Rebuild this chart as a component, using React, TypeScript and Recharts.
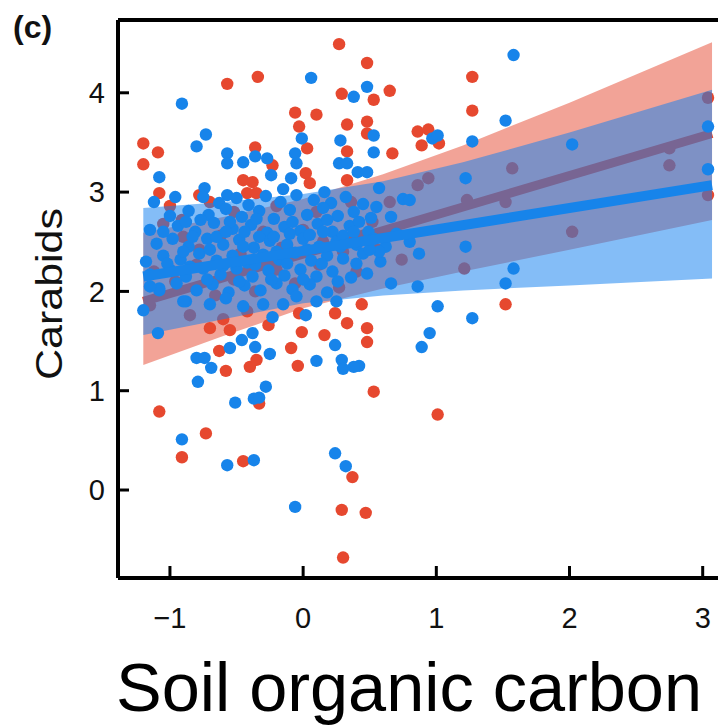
import React from 'react'
import { ComposedChart, Scatter, Line, Area, XAxis, YAxis, ReferenceLine } from 'recharts'

const X_MIN = -1.39
const X_MAX = 3.205
const Y_MIN = -0.886
const Y_MAX = 4.733

const X_TICKS = [-1, 0, 1, 2, 3]
const Y_TICKS = [0, 1, 2, 3, 4]

// raw points: [x, y]
const RED_POINTS: [number, number][] = [
    [-1.2, 3.49], [-1.2, 3.28], [-1.09, 3.4], [-1.08, 2.99], [-0.57, 4.09], [-0.34, 4.16], [0.27, 4.49],
    [0.29, 3.99], [-0.06, 3.8], [0.1, 3.78], [0.33, 3.68], [-0.03, 3.66], [-0.36, 3.45], [0.03, 3.44],
    [0.33, 3.41], [-0.23, 3.27], [-0.45, 3.12], [-0.38, 3.1], [-0.42, 2.99], [-0.35, 2.99], [-0.78, 2.97],
    [0.02, 3.19], [0.05, 3.09], [0.33, 3.12], [-0.91, 2.72],
    [0.48, 4.3], [0.65, 4.02], [0.53, 3.93], [0.48, 3.71], [0.48, 3.59], [0.67, 3.39], [1.27, 4.16],
    [1.27, 3.82], [0.86, 3.61], [0.94, 3.63], [0.89, 3.47], [1.02, 3.49], [3.04, 3.95], [3.04, 2.97],
    [0.86, 3.07], [0.94, 3.14], [1.57, 3.24], [1.23, 2.92], [1.52, 2.9], [2.75, 3.44], [2.75, 3.27],
    [2.02, 2.6], [1.21, 2.23], [0.56, 2.42], [0.74, 2.32], [0.65, 2.9], [1.52, 1.87],
    [0.44, 1.87], [0.48, 1.63], [0.48, 1.49], [0.53, 0.99], [1.01, 0.76], [0.47, -0.23],
    [0.24, 1.78], [0.33, 1.68], [0.16, 1.56], [-0.03, 1.78], [-0.01, 1.59], [-0.09, 1.43], [-0.04, 1.25],
    [-0.63, 1.4], [-0.58, 1.2], [-0.4, 1.24], [-0.35, 1.31], [-0.7, 1.63], [-0.55, 1.61], [-0.33, 0.87],
    [-1.08, 0.79], [-0.73, 0.57], [-0.91, 0.33], [-0.45, 0.29], [0.37, 0.13], [0.29, -0.2], [0.3, -0.68],
    [-1.05, 2.68], [-0.9, 2.55], [-0.78, 2.42], [-0.62, 2.56], [-0.47, 2.38], [-0.3, 2.6], [-0.16, 2.44],
    [0.0, 2.62], [0.15, 2.5], [0.3, 2.4], [0.45, 2.56], [-1.12, 2.2], [-0.96, 2.1], [-0.8, 2.27],
    [-0.66, 1.96], [-0.52, 2.12], [-0.36, 2.0], [-0.2, 2.22], [-0.06, 2.08], [0.12, 2.27], [0.27, 2.04],
    [0.4, 2.2], [-1.15, 1.86], [-0.85, 1.76], [-0.6, 1.72], [-0.42, 1.8], [-0.26, 1.66], [-1.0, 2.86],
    [-0.7, 2.9], [-0.52, 2.8], [-0.2, 2.86], [0.1, 2.8], [0.36, 2.9], [0.52, 2.7],
]

const BLUE_POINTS: [number, number][] = [
    [-0.91, 3.89], [0.06, 4.15], [0.38, 3.96], [-0.8, 3.46], [-0.73, 3.58], [-0.57, 3.39], [-0.57, 3.29],
    [-0.45, 3.3], [-0.36, 3.36], [-0.27, 3.34], [-0.24, 3.17], [-0.06, 3.39], [-0.05, 3.29], [-0.01, 3.54],
    [0.28, 3.52], [0.27, 3.29], [0.33, 3.29], [-1.08, 3.15], [-0.74, 3.04], [-0.15, 3.03], [-0.09, 3.14],
    [0.16, 3.0], [0.41, 3.2], [-0.57, 2.97],
    [1.58, 4.38], [0.48, 4.06], [1.52, 3.72], [1.27, 3.51], [0.53, 3.57], [0.53, 3.4], [0.97, 3.54],
    [1.01, 3.57], [2.02, 3.48], [3.04, 3.66], [3.04, 3.23], [1.22, 3.14], [0.48, 3.2], [0.57, 3.04],
    [0.75, 2.93], [0.8, 2.92], [0.66, 2.75], [1.22, 2.45], [1.58, 2.23], [0.66, 2.08], [0.86, 2.05],
    [1.52, 2.08], [0.48, 2.18], [0.7, 2.58], [0.8, 2.5], [0.87, 2.38], [0.55, 2.85], [0.62, 2.45], [0.58, 2.3],
    [1.01, 1.85], [1.27, 1.73], [0.95, 1.58], [0.89, 1.44], [0.42, 1.25],
    [-1.2, 1.81], [-1.09, 1.58], [-0.88, 1.9], [-1.08, 2.01], [-0.8, 1.33], [-0.74, 1.33], [-0.69, 1.23],
    [-0.79, 1.09], [-0.55, 1.43], [-0.46, 1.51], [-0.38, 1.58], [-0.36, 1.44], [-0.25, 1.37], [-0.23, 1.74],
    [-0.3, 1.87], [-0.51, 0.88], [-0.37, 0.92], [-0.33, 0.93], [-0.28, 1.04], [-0.91, 0.51], [-0.57, 0.25],
    [-0.37, 0.3], [-0.06, -0.17], [0.24, 0.37], [0.32, 0.24], [0.1, 1.3], [0.24, 1.46], [0.29, 1.31],
    [0.3, 1.22], [0.38, 1.24], [0.02, 1.76],
    // dense cluster
    [-0.75, 2.95], [-0.63, 2.89], [-0.5, 2.94], [-0.41, 2.87], [-0.28, 2.96], [-0.17, 2.9], [-0.05, 2.97],
    [0.08, 2.92], [0.21, 2.89], [0.32, 2.95], [0.45, 2.88],
    [-1.0, 2.76], [-0.86, 2.81], [-0.71, 2.77], [-0.58, 2.83], [-0.46, 2.75], [-0.33, 2.81], [-0.22, 2.73],
    [-0.1, 2.82], [0.03, 2.77], [0.15, 2.84], [0.26, 2.76], [0.38, 2.8], [0.51, 2.74],
    [-1.15, 2.62], [-0.94, 2.66], [-0.81, 2.6], [-0.67, 2.69], [-0.53, 2.63], [-0.39, 2.67], [-0.27, 2.59],
    [-0.14, 2.65], [-0.02, 2.61], [0.11, 2.68], [0.22, 2.6], [0.35, 2.66], [0.49, 2.6],
    [-1.1, 2.48], [-0.98, 2.53], [-0.86, 2.45], [-0.72, 2.53], [-0.6, 2.47], [-0.48, 2.52], [-0.37, 2.44],
    [-0.25, 2.51], [-0.12, 2.47], [0.0, 2.53], [0.12, 2.45], [0.25, 2.5], [0.4, 2.47], [0.53, 2.53],
    [-1.18, 2.3], [-1.05, 2.36], [-0.92, 2.32], [-0.78, 2.38], [-0.65, 2.31], [-0.53, 2.36], [-0.42, 2.29],
    [-0.3, 2.37], [-0.18, 2.32], [-0.06, 2.39], [0.06, 2.31], [0.18, 2.36], [0.3, 2.33], [0.45, 2.38],
    [-1.15, 2.17], [-1.0, 2.22], [-0.88, 2.15], [-0.75, 2.23], [-0.62, 2.17], [-0.5, 2.23], [-0.38, 2.15],
    [-0.26, 2.21], [-0.14, 2.16], [-0.02, 2.22], [0.1, 2.15], [0.22, 2.2], [0.36, 2.14],
    [-1.08, 2.03], [-0.95, 2.08], [-0.8, 2.01], [-0.68, 2.07], [-0.56, 1.99], [-0.44, 2.06], [-0.32, 2.01],
    [-0.2, 2.08], [-0.08, 2.02], [0.05, 2.07], [0.18, 1.99],
    [-0.9, 1.9], [-0.7, 1.87], [-0.58, 1.93], [-0.45, 1.85], [-0.15, 1.87], [0.1, 1.9],
    [-1.12, 2.9], [-0.96, 2.95], [-0.88, 2.7], [-0.77, 2.72], [-0.65, 2.55], [-0.55, 2.7], [-0.44, 2.6],
    [-0.35, 2.73], [-0.22, 2.55], [-0.08, 2.7], [0.05, 2.57], [0.18, 2.72], [0.3, 2.56], [0.42, 2.7], [0.57, 2.4],
    [-1.05, 2.6], [-0.9, 2.4], [-0.83, 2.55], [-0.7, 2.42], [-0.58, 2.6], [-0.45, 2.45], [-0.33, 2.55],
    [-0.2, 2.4], [-0.1, 2.58], [0.03, 2.42], [0.15, 2.6], [0.28, 2.45], [0.38, 2.6], [0.5, 2.42],
    [-1.15, 2.05], [-1.02, 2.28], [-0.85, 2.25], [-0.72, 2.12], [-0.6, 2.26], [-0.48, 2.1], [-0.36, 2.27],
    [-0.24, 2.12], [-0.12, 2.28], [0.0, 2.12], [0.14, 2.28], [0.26, 2.1], [0.4, 2.28],
    [-0.05, 1.95], [0.25, 1.9],
]

// confidence bands read at these x positions
const BAND_X = [-1.2, -0.6, 0, 0.6, 1.2, 2.0, 3.07]
const RED_LO = [1.26, 1.55, 1.83, 2.03, 2.2, 2.42, 2.72]
const RED_HI = [2.59, 2.75, 2.93, 3.18, 3.47, 3.9, 4.51]
const BLUE_LO = [1.56, 1.72, 1.88, 1.96, 2.01, 2.06, 2.13]
const BLUE_HI = [2.84, 2.9, 2.98, 3.11, 3.3, 3.6, 4.03]

// fitted lines (end points)
const FIT_X = [-1.2, 3.07]
const RED_FIT = [1.9, 3.59]
const BLUE_FIT = [2.15, 3.07]

const RED = '#e6482f'
const BLUE = '#1784ea'
const BAND_BLUE = '#1481f0'
const FONT = '"Liberation Sans", Arial, sans-serif'

const redPts = RED_POINTS.map(([x, y]) => ({ x, y }))
const bluePts = BLUE_POINTS.map(([x, y]) => ({ x, y }))
const redBand = BAND_X.map((x, i) => ({ x, range: [RED_LO[i], RED_HI[i]] }))
const blueBand = BAND_X.map((x, i) => ({ x, range: [BLUE_LO[i], BLUE_HI[i]] }))
const redFit = FIT_X.map((x, i) => ({ x, y: RED_FIT[i] }))
const blueFit = FIT_X.map((x, i) => ({ x, y: BLUE_FIT[i] }))

const dot = (color: string) => (props: any) => <circle cx={props.cx} cy={props.cy} r={6.2} fill={color} />

const fmt = (v: number) => String(v).replace('-', '\u2212')

export default function App() {
    return (
        <div style={{ position: 'absolute', left: 0, top: 0, width: 718, height: 726, overflow: 'hidden', background: '#fff' }}>
            <ComposedChart width={740} height={726} margin={{ top: 20, right: 10, left: 0, bottom: 0 }}>
                <XAxis
                    type="number"
                    dataKey="x"
                    domain={[X_MIN, X_MAX]}
                    allowDataOverflow
                    ticks={X_TICKS}
                    tickFormatter={fmt}
                    height={148}
                    tickSize={-12}
                    tickMargin={41}
                    axisLine={{ stroke: '#000', strokeWidth: 4 }}
                    tickLine={{ stroke: '#000', strokeWidth: 3 }}
                    tick={{ fontSize: 29, fill: '#111', fontFamily: FONT }}
                />
                <YAxis
                    type="number"
                    dataKey="y"
                    domain={[Y_MIN, Y_MAX]}
                    allowDataOverflow
                    ticks={Y_TICKS}
                    width={118}
                    tickSize={-11}
                    tickMargin={24}
                    axisLine={{ stroke: '#000', strokeWidth: 4 }}
                    tickLine={{ stroke: '#000', strokeWidth: 3 }}
                    tick={{ fontSize: 29, fill: '#111', fontFamily: FONT }}
                />
                <ReferenceLine y={Y_MAX} stroke="#000" strokeWidth={4} />

                <Scatter data={redPts} shape={dot(RED)} isAnimationActive={false} zIndex={100} />
                <Line data={redFit} dataKey="y" stroke={RED} strokeWidth={9} dot={false} type="linear" isAnimationActive={false} zIndex={110} />
                <Area data={redBand} dataKey="range" stroke="none" fill={RED} fillOpacity={0.5} type="linear" isAnimationActive={false} zIndex={120} />
                <Area data={blueBand} dataKey="range" stroke="none" fill={BAND_BLUE} fillOpacity={0.52} type="linear" isAnimationActive={false} zIndex={130} />
                <Scatter data={bluePts} shape={dot(BLUE)} isAnimationActive={false} zIndex={140} />
                <Line data={blueFit} dataKey="y" stroke={BLUE} strokeWidth={10} dot={false} type="linear" isAnimationActive={false} zIndex={150} />
            </ComposedChart>
            <svg width={718} height={726} style={{ position: 'absolute', left: 0, top: 0, pointerEvents: 'none' }}>
                <text x={13} y={38} fontSize={32} fontWeight="bold" fontFamily={FONT} fill="#111">(c)</text>
                <text
                    x={62}
                    y={294}
                    transform="rotate(-90 62 294)"
                    textAnchor="middle"
                    fontSize={37}
                    fontFamily={FONT}
                    fill="#111"
                    textLength={172}
                    lengthAdjust="spacingAndGlyphs"
                >
                    Carabids
                </text>
                <text
                    x={116}
                    y={711}
                    fontSize={68}
                    fontFamily={FONT}
                    fill="#000"
                    textLength={586}
                    lengthAdjust="spacingAndGlyphs"
                >
                    Soil organic carbon
                </text>
            </svg>
        </div>
    )
}
